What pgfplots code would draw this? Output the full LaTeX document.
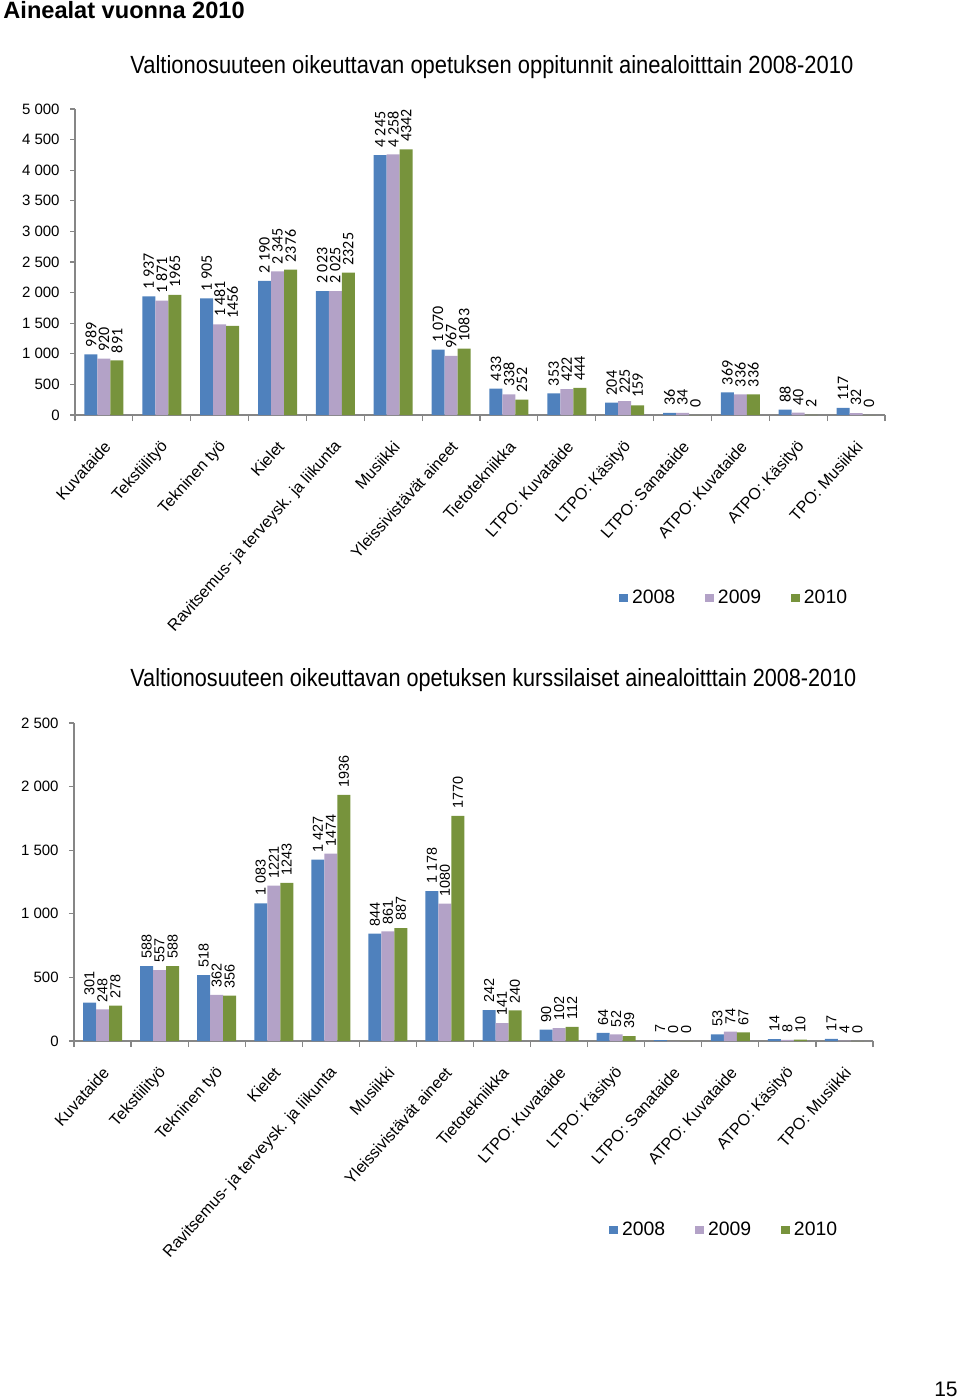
\documentclass[border=0pt]{standalone}
\usepackage{pgfplots}
\pgfplotsset{compat=1.18}
\usepackage{fontspec}
\setmainfont{Liberation Sans}
\newfontfamily\calibri{Carlito}

\definecolor{c08}{HTML}{4F81BD}
\definecolor{c09}{HTML}{B3A2C7}
\definecolor{c10}{HTML}{77933C}
\definecolor{axgray}{HTML}{868686}

\pgfplotsset{
  ainebars/.style={
    scale only axis,
    anchor=south west,
    axis lines*=left,
    axis line style={axgray, line width=0.6pt},
    tick style={axgray, line width=0.6pt},
    tick align=outside,
    major tick length=2.5pt,
    minor tick length=3pt,
    major x tick style={draw=none},
    xmin=-0.5, xmax=13.5, ymin=0,
    xtick={0,...,13},
    minor xtick={-0.5,0.5,...,13.5},
    xticklabels={Kuvataide, Tekstiilityö, Tekninen työ, Kielet,
      {Ravitsemus- ja terveysk. ja liikunta}, Musiikki, Yleissivistävät aineet,
      Tietotekniikka, {LTPO: Kuvataide}, {LTPO: Käsityö}, {LTPO: Sanataide},
      {ATPO: Kuvataide}, {ATPO: Käsityö}, {TPO: Musiikki}},
    xticklabel style={xshift=1.8pt, yshift=-11.8pt, rotate=48, anchor=east,
      inner sep=0pt, font=\fontsize{8.1}{9}\selectfont},
    yticklabel style={anchor=east, inner sep=0pt, xshift=-5pt,
      font=\fontsize{7.5}{9}\selectfont},
    ybar=0pt, bar width=6.5pt,
    clip=false,
    nodes near coords,
    point meta=explicit symbolic,
    every node near coord/.append style={rotate=90, anchor=west,
      inner sep=0pt, inner xsep=3.5pt, text=black},
    legend columns=3,
    legend image code/.code={\fill[##1] (0pt,-2.2pt) rectangle (4.4pt,2.2pt);},
    legend style={draw=none, fill=none, anchor=center,
      font=\fontsize{9.7}{11}\selectfont,
      /tikz/every even column/.append style={column sep=13pt}},
  },
}

\begin{document}
\begin{tikzpicture}
\useasboundingbox (0,0) rectangle (480pt,-699pt);

\node[anchor=base west, inner sep=0pt, font=\bfseries\fontsize{11.8}{13}\selectfont]
  at (1.5pt,-9pt) {Ainealat vuonna 2010};

\node[anchor=base west, inner sep=0pt] at (65pt,-36.7pt)
  {\resizebox{361.5pt}{9pt}{\fontsize{12.5}{14}\selectfont Valtionosuuteen oikeuttavan opetuksen oppitunnit ainealoitttain 2008-2010}};

\node[anchor=base west, inner sep=0pt] at (65pt,-343.3pt)
  {\resizebox{363pt}{9pt}{\fontsize{12.5}{14}\selectfont Valtionosuuteen oikeuttavan opetuksen kurssilaiset ainealoitttain 2008-2010}};

\node[anchor=base east, inner sep=0pt, font=\fontsize{10.5}{12}\selectfont]
  at (479pt,-698pt) {15};

% oppitunnit
\begin{axis}[ainebars,
  at={(37.5pt,-207.5pt)},
  width=405pt, height=153pt,
  ymax=5000,
  ytick={0,500,...,5000},
  yticklabels={0,500,1 000,1 500,2 000,2 500,3 000,3 500,4 000,4 500,5 000},
  every node near coord/.append style={font=\calibri\fontsize{8}{9}\selectfont},
  legend style={at={(0.815,-0.598)}},
]
\addplot[fill=c08, draw=none] coordinates {
  (0,989)[989] (1,1937)[1~937] (2,1905)[1~905] (3,2190)[2~190] (4,2023)[2~023]
  (5,4245)[4~245] (6,1070)[1~070] (7,433)[433] (8,353)[353] (9,204)[204]
  (10,36)[36] (11,369)[369] (12,88)[88] (13,117)[117]
};
\addplot[fill=c09, draw=none] coordinates {
  (0,920)[920] (1,1871)[1~871] (2,1481)[1~481] (3,2345)[2~345] (4,2025)[2~025]
  (5,4258)[4~258] (6,967)[967] (7,338)[338] (8,422)[422] (9,225)[225]
  (10,34)[34] (11,336)[336] (12,40)[40] (13,32)[32]
};
\addplot[fill=c10, draw=none] coordinates {
  (0,891)[891] (1,1965)[1965] (2,1456)[1456] (3,2376)[2376] (4,2325)[2325]
  (5,4342)[4342] (6,1083)[1083] (7,252)[252] (8,444)[444] (9,159)[159]
  (10,0)[0] (11,336)[336] (12,2)[2] (13,0)[0]
};
\legend{2008,2009,2010}
\end{axis}

% kurssilaiset
\begin{axis}[ainebars,
  at={(37pt,-520.5pt)},
  width=399.5pt, height=159pt,
  ymax=2500,
  ytick={0,500,...,2500},
  yticklabels={0,500,1 000,1 500,2 000,2 500},
  every node near coord/.append style={font=\fontsize{7.2}{9}\selectfont},
  legend style={at={(0.815,-0.594)}},
]
\addplot[fill=c08, draw=none] coordinates {
  (0,301)[301] (1,588)[588] (2,518)[518] (3,1083)[1~083] (4,1427)[1~427]
  (5,844)[844] (6,1178)[1~178] (7,242)[242] (8,90)[90] (9,64)[64]
  (10,7)[7] (11,53)[53] (12,14)[14] (13,17)[17]
};
\addplot[fill=c09, draw=none] coordinates {
  (0,248)[248] (1,557)[557] (2,362)[362] (3,1221)[1221] (4,1474)[1474]
  (5,861)[861] (6,1080)[1080] (7,141)[141] (8,102)[102] (9,52)[52]
  (10,0)[0] (11,74)[74] (12,8)[8] (13,4)[4]
};
\addplot[fill=c10, draw=none] coordinates {
  (0,278)[278] (1,588)[588] (2,356)[356] (3,1243)[1243] (4,1936)[1936]
  (5,887)[887] (6,1770)[1770] (7,240)[240] (8,112)[112] (9,39)[39]
  (10,0)[0] (11,67)[67] (12,10)[10] (13,0)[0]
};
\legend{2008,2009,2010}
\end{axis}
\end{tikzpicture}
\end{document}
